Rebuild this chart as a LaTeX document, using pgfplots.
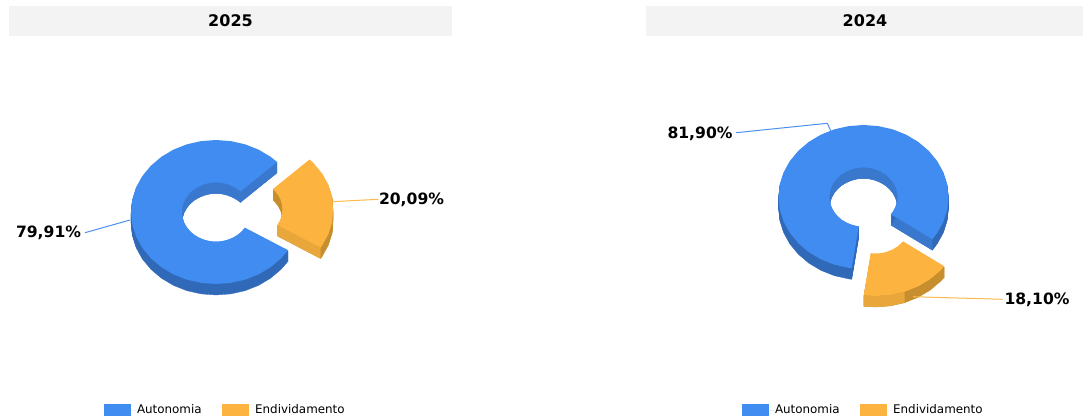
\documentclass[border=0pt]{standalone}
\usepackage{pgfplots}
\usepackage{pgfplotstable}
\usepackage{fontspec}
\setmainfont{DejaVu Sans}
\pgfplotsset{compat=1.18}
\definecolor{cblue}{HTML}{418CF0}
\definecolor{corange}{HTML}{FDB33F}
\definecolor{wblue}{HTML}{3069B8}
\definecolor{wblueb}{HTML}{3A78CE}
\definecolor{worange}{HTML}{C78E2E}
\definecolor{worangeb}{HTML}{E8A63B}
\definecolor{bar}{HTML}{F3F3F3}
\definecolor{lblue}{HTML}{4A90EE}
\definecolor{lorange}{HTML}{FBB94F}

% 2025: Autonomia 79,91 / Endividamento 20,09 (picture positions in pixels)
\pgfplotstableread{
x y
277.1 162
270.6 156.8
258.5 149.6
245.1 144.3
230.8 141.1
216 140
201.2 141.1
186.9 144.3
173.5 149.6
161.4 156.8
150.9 165.7
142.4 176
136.1 187.4
132.3 199.5
131 212
132.3 224.5
136.1 236.6
142.4 248
150.9 258.3
161.4 267.2
173.5 274.4
186.9 279.7
201.2 282.9
216 284
230.8 282.9
245.1 279.7
258.5 274.4
270.6 267.2
281.1 258.3
288.1 250.2
244.8 227.6
242 231
237.9 234.6
233 237.5
227.6 239.7
221.9 241.1
216 241.5
210.1 241.1
204.4 239.7
199 237.5
194.1 234.6
190 231
186.6 226.8
184 222.1
182.5 217.1
182 212
182.5 206.9
184 201.9
186.6 197.2
190 193
194.1 189.4
199 186.5
204.4 184.3
210.1 182.9
216 182.5
221.9 182.9
227.6 184.3
233 186.5
237.9 189.4
240.5 191.5
}\blueA
\pgfplotstableread{
x y
320.6 247.7
322.1 245.5
328.4 234.1
332.2 222
333 209.5
332.2 197
328.4 184.9
322.1 173.5
313.6 163.2
309.6 159.5
273 189
274.5 190.5
277.9 194.7
280.5 199.4
282 204.4
282.5 209.5
282 214.6
280.5 219.6
277.9 224.3
277.3 225.1
}\orangeA
% 2024: Autonomia 81,90 / Endividamento 18,10
\pgfplotstableread{
x y
932.3 239.3
937.1 233
943.4 221.6
947.2 209.5
948.5 197
947.2 184.5
943.4 172.4
937.1 161
928.6 150.7
918.1 141.8
906 134.6
892.6 129.3
878.3 126.1
863.5 125
848.7 126.1
834.4 129.3
821 134.6
808.9 141.8
798.4 150.7
789.9 161
783.6 172.4
779.8 184.5
778.5 197
779.8 209.5
783.6 221.6
789.9 233
798.4 243.3
808.9 252.2
821 259.4
834.4 264.7
848.7 267.9
851.7 268.3
858.8 226.2
857.6 226.1
851.9 224.7
846.5 222.5
841.6 219.6
837.5 216
834.1 211.8
831.5 207.1
830 202.1
829.5 197
830 191.9
831.5 186.9
834.1 182.2
837.5 178
841.6 174.4
846.5 171.5
851.9 169.3
857.6 167.9
863.5 167.5
869.4 167.9
875.1 169.3
880.5 171.5
885.4 174.4
889.5 178
892.9 182.2
895.5 186.9
897 191.9
897.5 197
897 202.1
895.5 207.1
892.9 211.8
891 214.3
}\blueB
\pgfplotstableread{
x y
863.7 295.3
875.5 296
890.3 294.9
904.6 291.7
918 286.4
930.1 279.2
940.6 270.3
944.3 266.3
903 241.3
901.5 243
897.4 246.6
892.5 249.5
887.1 251.7
881.4 253.1
875.5 253.5
870.8 253.2
}\orangeB

\newcommand\extrude[3]{\pgfplotsinvokeforeach{1,...,#3}{%
  \addplot[fill=#2,draw=#2,line width=0.3pt,forget plot] table[x=x,y expr=\thisrow{y}+##1]{#1};}}

\tikzset{
  lab/.style={font=\fontsize{15.6}{18}\bfseries\selectfont,inner sep=0pt},
  ttl/.style={font=\fontsize{16}{18}\bfseries\selectfont,inner sep=0pt},
}
\pgfplotsset{
  pane/.style={
    width=541.5pt,height=418pt,scale only axis,hide axis,
    y dir=reverse,ymin=0,ymax=418,clip=false,
    legend columns=2,
    legend style={draw=none,fill=none,inner sep=0pt,outer sep=0pt,
      font=\fontsize{11.9}{13}\selectfont,
      nodes={inner sep=0pt,outer sep=0pt},
      /tikz/every even column/.append style={column sep=20.5pt}},
    legend cell align=left,
  },
  swatch/.style={legend image code/.code={\fill[##1,draw=none] (0pt,-6pt) rectangle (27pt,6pt);\path (0pt,0pt) rectangle (33pt,0pt);}},
}

\begin{document}
\begin{tikzpicture}[x=1pt,y=1pt]
\path (0,0) rectangle (1083,418);
\begin{axis}[pane,at={(0pt,0pt)},xmin=0,xmax=541.5,
  legend style={at={(axis cs:104,410)},anchor=west}]
\fill[bar] (axis cs:9,6) rectangle (axis cs:452,36);
\node[ttl] at (axis cs:230.5,21) {2025};
\extrude{\blueA}{wblue}{11}
\addplot[fill=wblueb,draw=none,forget plot] coordinates {(182,212)(182.5,206.9)(184,201.9)(186.6,197.2)(190,193)(194.1,189.4)(199,186.5)(204.4,184.3)(210.1,182.9)(216,182.5)(221.9,182.9)(227.6,184.3)(233,186.5)(237.9,189.4)(240.5,191.5)(277.1,162)(277.1,173)(240.5,202.5)(237.9,200.4)(233,197.5)(227.6,195.3)(221.9,193.9)(216,193.5)(210.1,193.9)(204.4,195.3)(199,197.5)(194.1,200.4)(190,204)(186.6,208.2)(184,212.9)(182.5,217.9)(182,223)};
\addplot[swatch,fill=cblue,draw=none] table[x=x,y=y]{\blueA};
\addlegendentry{Autonomia}
\extrude{\orangeA}{worange}{11}
\addplot[fill=worangeb,draw=none,forget plot] coordinates {(277.3,225.1)(320.6,247.7)(320.6,258.7)(277.3,236.1)};
\addplot[swatch,fill=corange,draw=none] table[x=x,y=y]{\orangeA};
\addlegendentry{Endividamento}
\addplot[lblue,line width=1pt,forget plot] coordinates {(130,220)(85,232.7)};
\addplot[lorange,line width=1pt,forget plot] coordinates {(331.7,201.7)(378.3,199.3)};
\node[lab,anchor=center] at (axis cs:48.5,232.5) {79,91\%};
\node[lab,anchor=center] at (axis cs:411.5,200) {20,09\%};
\end{axis}
\begin{axis}[pane,at={(541.5pt,0pt)},xmin=541.5,xmax=1083,
  legend style={at={(axis cs:742,410)},anchor=west}]
\fill[bar] (axis cs:646,6) rectangle (axis cs:1083,36);
\node[ttl] at (axis cs:865,21) {2024};
\extrude{\blueB}{wblue}{11}
\addplot[fill=wblueb,draw=none,forget plot] coordinates {(829.5,197)(830,191.9)(831.5,186.9)(834.1,182.2)(837.5,178)(841.6,174.4)(846.5,171.5)(851.9,169.3)(857.6,167.9)(863.5,167.5)(869.4,167.9)(875.1,169.3)(880.5,171.5)(885.4,174.4)(889.5,178)(892.9,182.2)(895.5,186.9)(897,191.9)(897.5,197)(897,202.1)(895.5,207.1)(892.9,211.8)(891,214.3)(932.3,239.3)(932.3,250.3)(891,225.3)(892.9,222.8)(895.5,218.1)(897,213.1)(897.5,208)(897,202.9)(895.5,197.9)(892.9,193.2)(889.5,189)(885.4,185.4)(880.5,182.5)(875.1,180.3)(869.4,178.9)(863.5,178.5)(857.6,178.9)(851.9,180.3)(846.5,182.5)(841.6,185.4)(837.5,189)(834.1,193.2)(831.5,197.9)(830,202.9)(829.5,208)};
\addplot[swatch,fill=cblue,draw=none] table[x=x,y=y]{\blueB};
\addlegendentry{Autonomia}
\extrude{\orangeB}{worange}{11}
\addplot[fill=worangeb,draw=none,forget plot] coordinates {(863.7,295.3)(875.5,296)(890.3,294.9)(904.6,291.7)(904.6,302.7)(890.3,305.9)(875.5,307)(863.7,306.3)};
\addplot[swatch,fill=corange,draw=none] table[x=x,y=y]{\orangeB};
\addlegendentry{Endividamento}
\addplot[lblue,line width=1pt,forget plot] coordinates {(830.7,130.7)(827.3,123.3)(736,132.7)};
\addplot[lorange,line width=1pt,forget plot] coordinates {(913,296.7)(1002.7,299.3)};
\node[lab,anchor=center] at (axis cs:700,133.5) {81,90\%};
\node[lab,anchor=center] at (axis cs:1037,299.5) {18,10\%};
\end{axis}
\end{tikzpicture}
\end{document}
